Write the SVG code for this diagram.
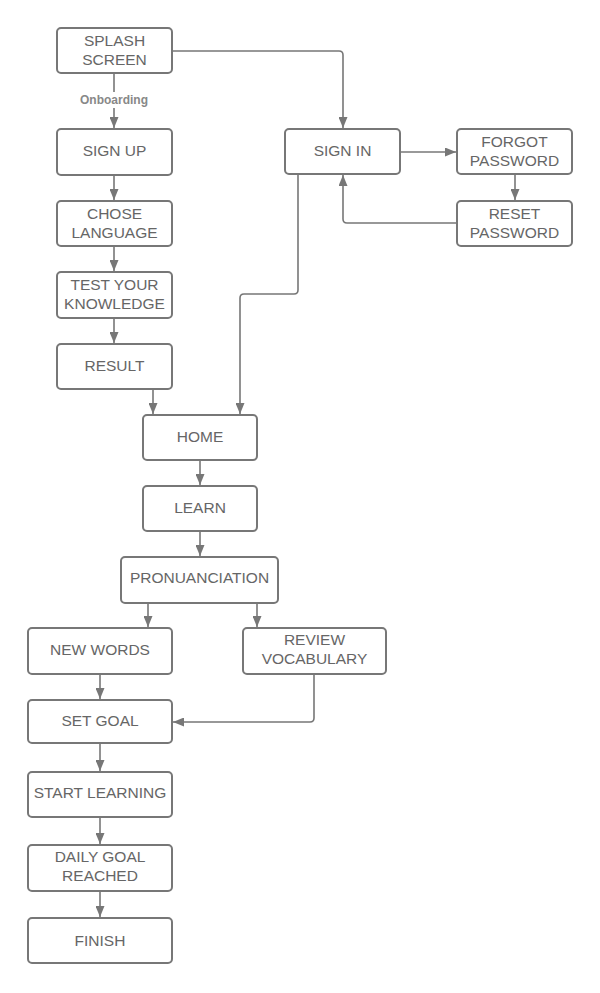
<svg xmlns="http://www.w3.org/2000/svg" width="600" height="993" viewBox="0 0 600 993">
<defs>
<style>
.n rect{fill:#fff;stroke:#777;stroke-width:2}
.n text{font-family:"Liberation Sans",Arial,sans-serif;font-size:15.5px;fill:#666;text-anchor:middle}
.c path{fill:none;stroke:#777;stroke-width:1.6;stroke-linejoin:round}
.lbl{font-family:"Liberation Sans",Arial,sans-serif;font-size:12px;font-weight:bold;fill:#888;text-anchor:middle}
</style>
<marker id="ah" viewBox="0 0 11 9" refX="11" refY="4.5" markerWidth="11" markerHeight="9" markerUnits="userSpaceOnUse" orient="auto">
<path d="M0,0 L11,4.5 L0,9 z" fill="#777"/>
</marker>
</defs>
<rect width="600" height="993" fill="#fff"/>
<g class="c">
<path d="M114,73 V92"/>
<path d="M114,108 V128" marker-end="url(#ah)"/>
<path d="M172,51 H339 Q343,51 343,55 V128" marker-end="url(#ah)"/>
<path d="M400,152 H456" marker-end="url(#ah)"/>
<path d="M515,174 V200" marker-end="url(#ah)"/>
<path d="M457,223 H347 Q343,223 343,219 V175" marker-end="url(#ah)"/>
<path d="M298,174 V290 Q298,294 294,294 H244 Q240,294 240,298 V414" marker-end="url(#ah)"/>
<path d="M114,175 V200" marker-end="url(#ah)"/>
<path d="M114,246 V271" marker-end="url(#ah)"/>
<path d="M114,318 V343" marker-end="url(#ah)"/>
<path d="M153,389 V414" marker-end="url(#ah)"/>
<path d="M200,460 V485" marker-end="url(#ah)"/>
<path d="M200,531 V556" marker-end="url(#ah)"/>
<path d="M148,603 V627" marker-end="url(#ah)"/>
<path d="M257,603 V627" marker-end="url(#ah)"/>
<path d="M100,674 V699" marker-end="url(#ah)"/>
<path d="M314,674 V718 Q314,722 310,722 H173" marker-end="url(#ah)"/>
<path d="M100,743 V771" marker-end="url(#ah)"/>
<path d="M100,817 V844" marker-end="url(#ah)"/>
<path d="M100,891 V917" marker-end="url(#ah)"/>
</g>
<text class="lbl" x="114" y="104">Onboarding</text>
<g id="splash" class="n"><rect x="57" y="28" width="115" height="45" rx="4"/><text x="114.5" y="45.5">SPLASH</text><text x="114.5" y="64.5">SCREEN</text></g>
<g id="signup" class="n"><rect x="57" y="129" width="115" height="46" rx="4"/><text x="114.5" y="156">SIGN UP</text></g>
<g id="signin" class="n"><rect x="285" y="129" width="115" height="45" rx="4"/><text x="342.5" y="156">SIGN IN</text></g>
<g id="forgot" class="n"><rect x="457" y="129" width="115" height="45" rx="4"/><text x="514.5" y="146.5">FORGOT</text><text x="514.5" y="165.5">PASSWORD</text></g>
<g id="reset" class="n"><rect x="457" y="201" width="115" height="45" rx="4"/><text x="514.5" y="218.5">RESET</text><text x="514.5" y="237.5">PASSWORD</text></g>
<g id="chose" class="n"><rect x="57" y="201" width="115" height="45" rx="4"/><text x="114.5" y="218.5">CHOSE</text><text x="114.5" y="237.5">LANGUAGE</text></g>
<g id="test" class="n"><rect x="57" y="272" width="115" height="46" rx="4"/><text x="114.5" y="289.5">TEST YOUR</text><text x="114.5" y="308.5">KNOWLEDGE</text></g>
<g id="result" class="n"><rect x="57" y="344" width="115" height="45" rx="4"/><text x="114.5" y="371">RESULT</text></g>
<g id="home" class="n"><rect x="143" y="415" width="114" height="45" rx="4"/><text x="200" y="442">HOME</text></g>
<g id="learn" class="n"><rect x="143" y="486" width="114" height="45" rx="4"/><text x="200" y="513">LEARN</text></g>
<g id="pron" class="n"><rect x="121" y="557" width="157" height="46" rx="4"/><text x="199.5" y="583">PRONUANCIATION</text></g>
<g id="newwords" class="n"><rect x="28" y="628" width="144" height="46" rx="4"/><text x="100" y="654.5">NEW WORDS</text></g>
<g id="review" class="n"><rect x="243" y="628" width="143" height="46" rx="4"/><text x="314.5" y="644.5">REVIEW</text><text x="314.5" y="663.5">VOCABULARY</text></g>
<g id="setgoal" class="n"><rect x="28" y="700" width="144" height="43" rx="4"/><text x="100" y="725.5">SET GOAL</text></g>
<g id="start" class="n"><rect x="28" y="772" width="144" height="45" rx="4"/><text x="100" y="797.5">START LEARNING</text></g>
<g id="daily" class="n"><rect x="28" y="845" width="144" height="46" rx="4"/><text x="100" y="861.5">DAILY GOAL</text><text x="100" y="880.5">REACHED</text></g>
<g id="finish" class="n"><rect x="28" y="918" width="144" height="45" rx="4"/><text x="100" y="945.5">FINISH</text></g>
</svg>
